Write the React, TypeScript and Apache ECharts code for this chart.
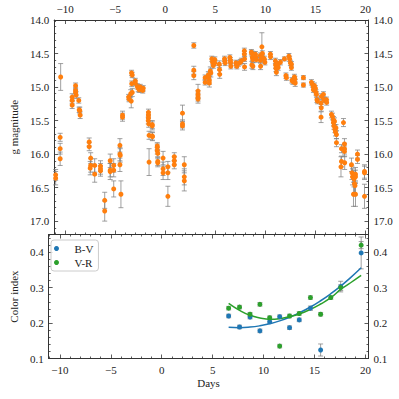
import React, { useEffect, useRef } from 'react';
import * as echarts from 'echarts';

// ---- Data: g-band photometry [day, magnitude, error] ----
const gObs: [number, number, number][] = [
  [-10.95, 16.31, 0.08], [-10.95, 16.36, 0.1], [-10.45, 14.85, 0.2],
  [-10.5, 15.75, 0.06], [-10.5, 15.92, 0.08], [-10.5, 16.07, 0.1],
  [-9.3, 15.15, 0.05], [-9.3, 15.2, 0.05], [-9.3, 15.27, 0.05],
  [-8.96, 14.98, 0.04], [-8.96, 15.05, 0.04], [-8.96, 15.08, 0.04], [-8.9, 15.12, 0.05],
  [-8.64, 15.2, 0.04], [-8.6, 15.34, 0.04], [-8.54, 15.35, 0.05], [-8.5, 15.42, 0.05],
  [-7.6, 15.82, 0.06], [-7.6, 15.89, 0.06],
  [-7.45, 16.06, 0.08], [-7.45, 16.17, 0.1], [-7.5, 16.21, 0.1],
  [-7.05, 16.17, 0.1], [-7.05, 16.3, 0.12],
  [-6.47, 16.18, 0.08], [-6.47, 16.22, 0.08], [-6.47, 16.25, 0.08],
  [-6.05, 16.69, 0.12], [-6.05, 16.85, 0.15],
  [-5.5, 16.1, 0.1], [-5.5, 16.24, 0.1], [-5.5, 16.26, 0.12],
  [-5.15, 16.17, 0.1], [-5.15, 16.24, 0.1], [-5.15, 16.52, 0.12],
  [-4.53, 15.87, 0.1], [-4.53, 16.0, 0.1], [-4.5, 16.02, 0.1], [-4.53, 16.16, 0.1],
  [-4.43, 16.6, 0.2],
  [-4.27, 15.42, 0.06], [-4.27, 15.45, 0.06],
  [-3.66, 15.15, 0.04], [-3.62, 15.18, 0.04],
  [-3.45, 15.1, 0.06], [-3.4, 15.21, 0.1],
  [-3.37, 14.79, 0.04], [-3.3, 14.82, 0.04], [-3.35, 14.95, 0.04], [-3.3, 15.08, 0.06],
  [-3.0, 14.91, 0.04], [-3.0, 14.94, 0.04],
  [-2.8, 14.99, 0.04], [-2.7, 15.02, 0.05], [-2.6, 15.04, 0.04], [-2.5, 15.0, 0.04],
  [-2.3, 15.03, 0.04], [-2.2, 15.02, 0.04], [-2.25, 15.05, 0.04],
  [-1.68, 15.38, 0.05], [-1.68, 15.42, 0.05], [-1.68, 15.46, 0.05], [-1.7, 15.5, 0.05], [-1.65, 15.55, 0.05],
  [-1.62, 15.72, 0.06], [-1.62, 16.12, 0.2],
  [-1.3, 15.56, 0.06], [-1.3, 15.58, 0.06], [-1.3, 15.73, 0.06], [-1.28, 15.74, 0.06],
  [-0.8, 15.88, 0.05], [-0.8, 15.9, 0.05], [-0.8, 15.95, 0.05], [-0.75, 15.99, 0.05],
  [-0.75, 16.11, 0.06], [-0.75, 16.13, 0.06],
  [-0.22, 16.06, 0.1], [-0.22, 16.22, 0.1], [-0.22, 16.28, 0.1],
  [0.26, 16.19, 0.08], [0.26, 16.28, 0.1], [0.26, 16.63, 0.15],
  [0.9, 16.04, 0.06], [0.9, 16.1, 0.06], [0.9, 16.16, 0.06],
  [1.72, 15.39, 0.12], [1.72, 15.55, 0.06], [1.72, 15.58, 0.06],
  [1.9, 16.16, 0.12], [1.9, 16.34, 0.12], [1.9, 16.4, 0.15],
  [2.85, 14.38, 0.04], [2.85, 14.75, 0.06], [2.85, 14.83, 0.06],
  [3.27, 15.06, 0.1], [3.27, 15.11, 0.06], [3.27, 15.15, 0.06], [3.27, 15.18, 0.06],
  [3.98, 14.86, 0.04], [3.98, 14.93, 0.04],
  [4.3, 14.82, 0.05], [4.35, 14.85, 0.06], [4.4, 14.9, 0.06], [4.4, 14.94, 0.06],
  [4.5, 14.76, 0.06], [4.55, 14.79, 0.06],
  [4.65, 14.58, 0.04], [4.72, 14.63, 0.04], [4.8, 14.68, 0.04],
  [4.95, 14.59, 0.04], [4.95, 14.64, 0.04],
  [5.4, 14.66, 0.05], [5.42, 14.74, 0.06], [5.44, 14.81, 0.06],
  [5.92, 14.58, 0.04], [5.95, 14.61, 0.04], [5.98, 14.64, 0.04],
  [6.45, 14.56, 0.04], [6.5, 14.6, 0.04], [6.52, 14.63, 0.04], [6.55, 14.69, 0.04],
  [7.05, 14.64, 0.04], [7.12, 14.67, 0.04], [7.15, 14.69, 0.04], [7.3, 14.65, 0.04],
  [7.5, 14.63, 0.04], [7.6, 14.61, 0.04],
  [7.9, 14.46, 0.04], [7.9, 14.51, 0.04], [7.92, 14.58, 0.04], [7.92, 14.7, 0.05],
  [8.6, 14.48, 0.04], [8.65, 14.5, 0.04], [8.7, 14.56, 0.04], [8.75, 14.59, 0.04],
  [8.65, 14.67, 0.05], [8.75, 14.69, 0.05],
  [9.0, 14.51, 0.04], [9.05, 14.55, 0.04], [9.1, 14.59, 0.04],
  [9.5, 14.53, 0.04], [9.5, 14.6, 0.04], [9.52, 14.69, 0.05],
  [9.65, 14.4, 0.21], [9.7, 14.5, 0.04], [9.72, 14.56, 0.04],
  [9.9, 14.58, 0.04], [9.95, 14.63, 0.04],
  [10.5, 14.51, 0.04], [10.52, 14.55, 0.04],
  [11.0, 14.61, 0.04], [11.02, 14.67, 0.05], [11.05, 14.72, 0.05], [11.1, 14.78, 0.05],
  [11.25, 14.66, 0.04], [11.28, 14.71, 0.04],
  [11.5, 14.63, 0.04], [11.9, 14.58, 0.03],
  [12.05, 14.83, 0.04], [12.1, 14.86, 0.04],
  [12.35, 14.54, 0.04], [12.42, 14.58, 0.04], [12.5, 14.64, 0.04],
  [12.6, 14.66, 0.04], [12.6, 14.71, 0.04],
  [12.65, 14.9, 0.04], [12.75, 14.92, 0.04], [12.9, 14.85, 0.04], [12.95, 14.88, 0.04], [12.98, 14.94, 0.05],
  [13.8, 14.86, 0.03], [13.8, 14.97, 0.03],
  [14.6, 14.93, 0.04], [14.7, 14.96, 0.04], [14.8, 15.0, 0.04], [14.8, 15.04, 0.04], [14.9, 14.98, 0.04],
  [15.0, 15.02, 0.04], [15.05, 15.08, 0.04], [15.1, 15.11, 0.04], [15.15, 15.19, 0.04], [15.2, 15.21, 0.04],
  [15.56, 15.24, 0.05], [15.58, 15.31, 0.05], [15.56, 15.45, 0.08],
  [15.6, 15.14, 0.04], [15.8, 15.11, 0.04], [15.85, 15.19, 0.04],
  [16.1, 15.19, 0.04], [16.12, 15.23, 0.04],
  [16.6, 15.41, 0.05], [16.7, 15.44, 0.05], [16.8, 15.49, 0.05], [16.9, 15.51, 0.05], [16.8, 15.53, 0.05],
  [16.85, 15.58, 0.05], [17.05, 15.61, 0.05],
  [16.95, 15.63, 0.05], [17.0, 15.67, 0.06], [17.1, 15.71, 0.06], [17.1, 15.83, 0.06],
  [17.8, 15.53, 0.06],
  [17.6, 15.92, 0.06], [17.6, 16.11, 0.08], [17.55, 16.19, 0.15],
  [17.9, 15.85, 0.08], [17.9, 15.92, 0.08], [17.9, 15.96, 0.08], [17.92, 16.13, 0.1],
  [18.6, 16.16, 0.1], [18.65, 16.28, 0.1], [18.7, 16.34, 0.12],
  [18.85, 16.37, 0.12], [18.9, 16.44, 0.15], [18.95, 16.47, 0.15], [18.8, 16.6, 0.18], [19.0, 16.6, 0.18],
  [19.0, 16.3, 0.1], [19.0, 16.34, 0.1],
  [19.2, 16.0, 0.06], [19.2, 16.08, 0.06],
  [19.9, 16.26, 0.1], [19.9, 16.28, 0.1], [19.9, 16.63, 0.18],
];

// ---- Colour indices ----
const bvDays = [6.57, 7.64, 8.67, 9.64, 10.6, 11.58, 12.55, 13.5, 14.6, 15.6, 17.57, 19.58];
const bvVals = [0.22, 0.189, 0.217, 0.178, 0.204, 0.218, 0.187, 0.209, 0.242, 0.124, 0.303, 0.398];
const bvErrs = [0.005, 0.005, 0.005, 0.005, 0.005, 0.005, 0.005, 0.005, 0.006, 0.017, 0.015, 0.045];

const vrDays = [6.57, 7.64, 8.67, 9.64, 10.6, 11.58, 12.55, 13.5, 14.6, 15.6, 16.6, 17.57, 19.58];
const vrVals = [0.242, 0.245, 0.225, 0.253, 0.215, 0.135, 0.22, 0.227, 0.272, 0.225, 0.272, 0.3, 0.42];
const vrErrs = [0.005, 0.005, 0.005, 0.005, 0.005, 0.005, 0.005, 0.005, 0.005, 0.005, 0.005, 0.008, 0.01];

// fitted trends
const fitDays = [6.57, 7.64, 8.67, 9.64, 10.6, 11.58, 12.55, 13.5, 14.6, 15.6, 16.6, 17.57, 18.54, 19.58];
const bvFit = [0.188, 0.187, 0.1886, 0.1923, 0.1981, 0.2062, 0.2165, 0.2287, 0.2454, 0.263, 0.2829, 0.3044, 0.3282, 0.356];
const vrFit = [0.2556, 0.2359, 0.2219, 0.2144, 0.2106, 0.2125, 0.2181, 0.2256, 0.2388, 0.2538, 0.2716, 0.295, 0.3138, 0.3345];

// ---- Ticks ----
const xMajor = [-10, -5, 0, 5, 10, 15, 20];
const magMajor = [14.0, 14.5, 15.0, 15.5, 16.0, 16.5, 17.0];
const ciMajor = [0.1, 0.2, 0.3, 0.4];

const X_MIN = -11.1, X_MAX = 20.3;
const MAG_MIN = 14.0, MAG_MAX = 17.2;
const CI_MIN = 0.1, CI_MAX = 0.45;

function minorTicks(lo: number, hi: number, step: number, majorStep: number) {
  const out: number[] = [];
  const n = Math.round((hi - lo) / step);
  for (let i = 0; i <= n; i++) {
    const v = +(lo + i * step).toFixed(6);
    const r = v / majorStep;
    if (Math.abs(r - Math.round(r)) > 1e-6) out.push(v);
  }
  return out;
}
const xMinor = minorTicks(-11, 20, 1, 5);
const magMinor = minorTicks(14.0, 17.2, 0.1, 0.5);
const ciMinor = minorTicks(0.1, 0.44, 0.02, 0.1);

const FONT = 'Liberation Serif';
const AX = '#333';
const TXT = '#222';
const ORANGE = '#ff7f0e';
const BLUE = '#1f77b4';
const GREEN = '#2ca02c';
const ERRC = 'rgba(128,128,128,0.75)';

const fmtX = (v: number) => (v < 0 ? '\u2212' + Math.abs(v) : String(v));

function mkAxis(opts: {
  grid: number; pos: string; min: number; max: number; major: boolean; labels: boolean;
  majorVals: number[]; minorVals: number[]; fmt: (v: number) => string; inverse?: boolean; extra?: any;
}) {
  const { grid, pos, min, max, major, labels, majorVals, minorVals, fmt, inverse, extra } = opts;
  return {
    type: 'value', gridIndex: grid, position: pos, min, max, inverse: !!inverse,
    axisLine: { show: major, onZero: false, lineStyle: { color: AX, width: 1 } },
    splitLine: { show: false },
    axisTick: {
      show: true, inside: true, length: major ? 4 : 2,
      customValues: major ? majorVals : minorVals,
      lineStyle: { color: AX, width: 0.8 },
    },
    axisLabel: {
      show: labels, customValues: majorVals, formatter: fmt,
      fontFamily: FONT, fontSize: 11, color: TXT, margin: 5,
    },
    ...(extra || {}),
  };
}

function errRender(params: any, api: any) {
  const x = api.value(0), y = api.value(1), e = api.value(2);
  const a = api.coord([x, y - e]);
  const b = api.coord([x, y + e]);
  const style = { stroke: ERRC, lineWidth: 1 };
  const cap = 2.5;
  return {
    type: 'group',
    children: [
      { type: 'line', shape: { x1: a[0], y1: a[1], x2: b[0], y2: b[1] }, style },
      { type: 'line', shape: { x1: a[0] - cap, y1: a[1], x2: a[0] + cap, y2: a[1] }, style },
      { type: 'line', shape: { x1: b[0] - cap, y1: b[1], x2: b[0] + cap, y2: b[1] }, style },
    ],
  };
}

export default function App() {
  const ref = useRef<HTMLDivElement>(null);
  useEffect(() => {
    if (!ref.current) return;
    const chart = echarts.init(ref.current, undefined, { renderer: 'svg' });
    const f1 = (v: number) => v.toFixed(1);

    const xAxes = [
      // grid 0
      mkAxis({ grid: 0, pos: 'bottom', min: X_MIN, max: X_MAX, major: true, labels: false, majorVals: xMajor, minorVals: xMinor, fmt: fmtX }),
      mkAxis({ grid: 0, pos: 'bottom', min: X_MIN, max: X_MAX, major: false, labels: false, majorVals: xMajor, minorVals: xMinor, fmt: fmtX }),
      mkAxis({ grid: 0, pos: 'top', min: X_MIN, max: X_MAX, major: true, labels: true, majorVals: xMajor, minorVals: xMinor, fmt: fmtX, extra: { axisLabel: { show: true, customValues: xMajor, formatter: fmtX, fontFamily: FONT, fontSize: 11, color: TXT, margin: 6 } } }),
      mkAxis({ grid: 0, pos: 'top', min: X_MIN, max: X_MAX, major: false, labels: false, majorVals: xMajor, minorVals: xMinor, fmt: fmtX }),
      // grid 1
      mkAxis({ grid: 1, pos: 'bottom', min: X_MIN, max: X_MAX, major: true, labels: true, majorVals: xMajor, minorVals: xMinor, fmt: fmtX, extra: {
        name: 'Days', nameLocation: 'middle', nameGap: 19,
        nameTextStyle: { fontFamily: FONT, fontSize: 11, color: TXT },
        axisLabel: { show: true, customValues: xMajor, formatter: fmtX, fontFamily: FONT, fontSize: 11, color: TXT, margin: 6 },
      } }),
      mkAxis({ grid: 1, pos: 'bottom', min: X_MIN, max: X_MAX, major: false, labels: false, majorVals: xMajor, minorVals: xMinor, fmt: fmtX }),
      mkAxis({ grid: 1, pos: 'top', min: X_MIN, max: X_MAX, major: true, labels: false, majorVals: xMajor, minorVals: xMinor, fmt: fmtX }),
      mkAxis({ grid: 1, pos: 'top', min: X_MIN, max: X_MAX, major: false, labels: false, majorVals: xMajor, minorVals: xMinor, fmt: fmtX }),
    ];
    const yAxes = [
      mkAxis({ grid: 0, pos: 'left', min: MAG_MIN, max: MAG_MAX, inverse: true, major: true, labels: true, majorVals: magMajor, minorVals: magMinor, fmt: f1, extra: {
        name: 'g magnitude', nameLocation: 'middle', nameGap: 28, nameRotate: 90,
        nameTextStyle: { fontFamily: FONT, fontSize: 11, color: TXT },
      } }),
      mkAxis({ grid: 0, pos: 'left', min: MAG_MIN, max: MAG_MAX, inverse: true, major: false, labels: false, majorVals: magMajor, minorVals: magMinor, fmt: f1 }),
      mkAxis({ grid: 0, pos: 'right', min: MAG_MIN, max: MAG_MAX, inverse: true, major: true, labels: true, majorVals: magMajor, minorVals: magMinor, fmt: f1 }),
      mkAxis({ grid: 0, pos: 'right', min: MAG_MIN, max: MAG_MAX, inverse: true, major: false, labels: false, majorVals: magMajor, minorVals: magMinor, fmt: f1 }),
      mkAxis({ grid: 1, pos: 'left', min: CI_MIN, max: CI_MAX, major: true, labels: true, majorVals: ciMajor, minorVals: ciMinor, fmt: f1, extra: {
        name: 'Color index', nameLocation: 'middle', nameGap: 22, nameRotate: 90,
        nameTextStyle: { fontFamily: FONT, fontSize: 11, color: TXT },
      } }),
      mkAxis({ grid: 1, pos: 'left', min: CI_MIN, max: CI_MAX, major: false, labels: false, majorVals: ciMajor, minorVals: ciMinor, fmt: f1 }),
      mkAxis({ grid: 1, pos: 'right', min: CI_MIN, max: CI_MAX, major: true, labels: true, majorVals: ciMajor, minorVals: ciMinor, fmt: f1 }),
      mkAxis({ grid: 1, pos: 'right', min: CI_MIN, max: CI_MAX, major: false, labels: false, majorVals: ciMajor, minorVals: ciMinor, fmt: f1 }),
    ];

    const bvData = bvDays.map((d, i) => [d, bvVals[i], bvErrs[i]]);
    const vrData = vrDays.map((d, i) => [d, vrVals[i], vrErrs[i]]);

    chart.setOption({
      animation: false,
      backgroundColor: '#fff',
      grid: [
        { left: 45, top: 20, width: 323.5, height: 214.5 },
        { left: 45, top: 234.5, width: 323.5, height: 124 },
      ],
      xAxis: xAxes,
      yAxis: yAxes,
      legend: {
        data: [{ name: 'B-V', icon: 'circle' }, { name: 'V-R', icon: 'circle' }],
        orient: 'vertical', left: 51, top: 240,
        itemWidth: 26, itemHeight: 5, itemGap: 3,
        padding: [3, 5, 3, 3],
        borderColor: '#ccc', borderWidth: 1, borderRadius: 3,
        backgroundColor: 'rgba(255,255,255,0.8)',
        textStyle: { fontFamily: FONT, fontSize: 11, color: TXT },
        selectedMode: false,
      },
      series: [
        {
          type: 'custom', name: 'g err', xAxisIndex: 0, yAxisIndex: 0,
          renderItem: errRender, data: gObs, encode: { x: 0, y: 1 }, z: 1, silent: true,
        },
        {
          type: 'scatter', name: 'g', xAxisIndex: 0, yAxisIndex: 0,
          data: gObs.map((p) => [p[0], p[1]]), symbol: 'circle', symbolSize: 5,
          itemStyle: { color: ORANGE, opacity: 1 }, z: 3,
        },
        {
          type: 'custom', name: 'bv err', xAxisIndex: 4, yAxisIndex: 4,
          renderItem: errRender, data: bvData, encode: { x: 0, y: 1 }, z: 1, silent: true,
        },
        {
          type: 'custom', name: 'vr err', xAxisIndex: 4, yAxisIndex: 4,
          renderItem: errRender, data: vrData, encode: { x: 0, y: 1 }, z: 1, silent: true,
        },
        {
          type: 'line', name: 'B-V fit', xAxisIndex: 4, yAxisIndex: 4,
          data: fitDays.map((d, i) => [d, bvFit[i]]), smooth: true, showSymbol: false,
          lineStyle: { color: BLUE, width: 1.5 }, itemStyle: { color: BLUE }, z: 2,
        },
        {
          type: 'line', name: 'V-R fit', xAxisIndex: 4, yAxisIndex: 4,
          data: fitDays.map((d, i) => [d, vrFit[i]]), smooth: true, showSymbol: false,
          lineStyle: { color: GREEN, width: 1.5 }, itemStyle: { color: GREEN }, z: 2,
        },
        {
          type: 'scatter', name: 'B-V', xAxisIndex: 4, yAxisIndex: 4,
          data: bvDays.map((d, i) => [d, bvVals[i]]), symbol: 'circle', symbolSize: 5,
          itemStyle: { color: BLUE, opacity: 1 }, z: 3,
        },
        {
          type: 'scatter', name: 'V-R', xAxisIndex: 4, yAxisIndex: 4,
          data: vrDays.map((d, i) => [d, vrVals[i]]), symbol: 'circle', symbolSize: 5,
          itemStyle: { color: GREEN, opacity: 1 }, z: 3,
        },
      ],
    });
    return () => chart.dispose();
  }, []);
  return <div ref={ref} style={{ position: 'absolute', left: 0, top: 0, width: 399, height: 399 }} />;
}
